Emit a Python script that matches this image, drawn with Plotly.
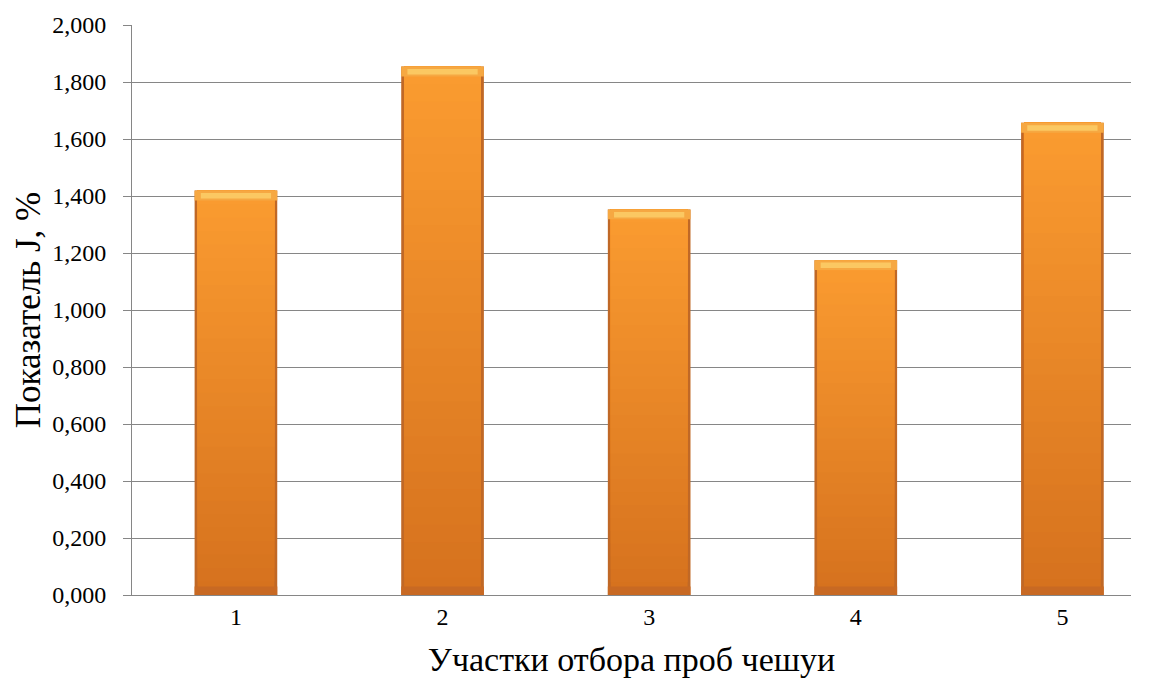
import plotly.graph_objects as go

categories = ["1", "2", "3", "4", "5"]
values = [1.419, 1.854, 1.353, 1.175, 1.657]
y_ticks = [0, 0.2, 0.4, 0.6, 0.8, 1.0, 1.2, 1.4, 1.6, 1.8, 2.0]

x_pos = [i + 1 for i in range(len(categories))]


def lerp(c1, c2, t):
    return "rgb({},{},{})".format(*[round(a + (b - a) * t) for a, b in zip(c1, c2)])


bottom_col = (214, 114, 30)
top_col = (250, 155, 48)

fig = go.Figure()

# outer darker edge
fig.add_trace(go.Bar(x=x_pos, y=values, width=0.40, marker=dict(color="rgb(192,104,38)", line=dict(width=0)),
                     hoverinfo="skip", showlegend=False))

# vertical gradient body (each layer spans from its base to the top, so no seams)
N = 30
for k in range(N):
    t = k / (N - 1)
    fig.add_trace(go.Bar(
        x=x_pos,
        y=[v - v * k / N for v in values],
        base=[v * k / N for v in values],
        width=0.372,
        marker=dict(color=lerp(bottom_col, top_col, t), line=dict(width=0)),
        hoverinfo="skip", showlegend=False))

# top bevel highlight
bev = 0.035
fig.add_trace(go.Bar(x=x_pos, y=[bev] * len(values), base=[v - bev for v in values], width=0.40,
                     marker=dict(color="rgb(246,168,66)", line=dict(width=0)), hoverinfo="skip", showlegend=False))
fig.add_trace(go.Bar(x=x_pos, y=[bev * 0.55] * len(values), base=[v - bev * 0.8 for v in values], width=0.34,
                     marker=dict(color="rgb(251,200,98)", line=dict(width=0)), hoverinfo="skip", showlegend=False))
# bottom darker band
fig.add_trace(go.Bar(x=x_pos, y=[0.03] * len(values), base=[0] * len(values), width=0.40,
                     marker=dict(color="rgb(200,105,35)", line=dict(width=0)), hoverinfo="skip", showlegend=False))

font_family = "Liberation Serif, Times New Roman, serif"

fig.update_layout(
    width=1151, height=675,
    margin=dict(l=124, r=28, t=17, b=88),
    barmode="overlay",
    paper_bgcolor="white", plot_bgcolor="white",
    separators=", ",
    font=dict(family=font_family, size=24, color="black"),
    xaxis=dict(
        range=[0.497, 5.332],
        tickvals=x_pos, ticktext=categories,
        showgrid=False, zeroline=False,
        showline=True, linecolor="#868686", linewidth=1,
        ticks="", tickfont=dict(size=24),
        automargin=False,
        title=dict(text="Участки отбора проб чешуи", font=dict(size=34), standoff=18),
    ),
    yaxis=dict(
        range=[0, 2.0],
        tickvals=y_ticks, tickformat=".3f",
        showgrid=True, gridcolor="#868686", gridwidth=1,
        zeroline=False,
        showline=True, linecolor="#868686", linewidth=1,
        ticks="outside", ticklen=8, tickcolor="#868686",
        ticklabelstandoff=12,
        tickfont=dict(size=24),
        automargin=False,
        title=dict(text="Показатель J, %", font=dict(size=35), standoff=0),
    ),
)

fig.write_html("out.html")
